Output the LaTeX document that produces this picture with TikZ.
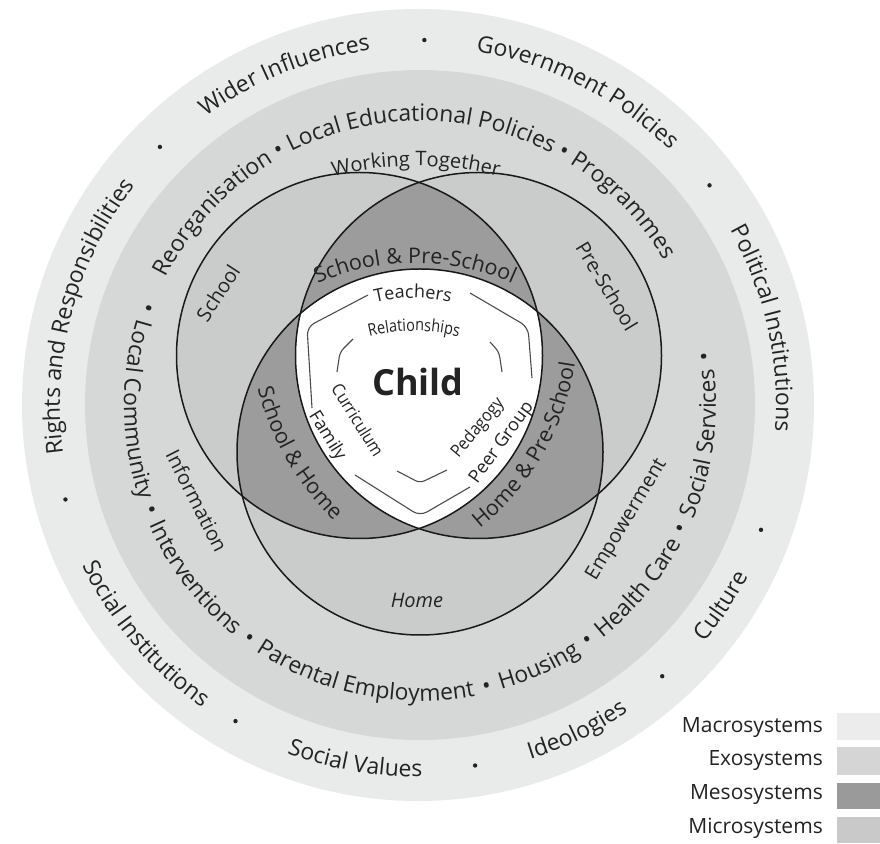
\documentclass[tikz,border=0pt]{standalone}
\usepackage{fontspec}
\setmainfont{Open Sans}
\newfontfamily\condA[FakeStretch=0.85]{Open Sans}
\newfontfamily\condB[FakeStretch=0.9]{Open Sans}
\usetikzlibrary{decorations.text}
\definecolor{macro}{HTML}{E9EBEB}
\definecolor{exo}{HTML}{D6D8D8}
\definecolor{micro}{HTML}{CACCCC}
\definecolor{meso}{HTML}{9C9C9C}
\definecolor{ink}{HTML}{232323}
\definecolor{lgmacro}{HTML}{ECECEC}
\definecolor{lgexo}{HTML}{D5D5D5}
\definecolor{lgmeso}{HTML}{9A9A9A}
\definecolor{lgmicro}{HTML}{C9C9C9}
\newcommand\fOut{\fontsize{23}{27}\selectfont}
\newcommand\fExo{\fontsize{22.8}{26}\selectfont}
\newcommand\fLeg{\fontsize{21}{25}\selectfont}
\newcommand\fVenn{\fontsize{20}{24}\selectfont}
\newcommand\fLens{\fontsize{21.5}{25}\selectfont}
\newcommand\fIn{\fontsize{18}{22}\selectfont}
% clockwise text: centre, radius, mid angle, half span, text
\newcommand\cwtext[5]{\path[decorate,decoration={text along path,text align=center,text={#5}}] (#1) ++({#3+#4}:#2) arc[start angle={#3+#4},end angle={#3-#4},radius=#2];}
\newcommand\ccwtext[5]{\path[decorate,decoration={text along path,text align=center,text={#5}}] (#1) ++({#3-#4}:#2) arc[start angle={#3-#4},end angle={#3+#4},radius=#2];}
\begin{document}
\begin{tikzpicture}[x=1pt,y=1pt,
  vennline/.style={draw=black!90,line width=1.5pt},
  bracketline/.style={draw=black!70,line width=1.1pt,rounded corners=8pt},
  lbl/.style={text=ink,inner sep=0pt},
  dotmark/.style={fill=ink}]
\useasboundingbox (0,0) rectangle (880,843);
\fill[white] (0,0) rectangle (880,843);
\coordinate (O) at (418,438);
\coordinate (E) at (420,438);
\coordinate (S) at (359.5,487.5);
\coordinate (P) at (478.5,487.5);
\coordinate (H) at (420,391);
% rings
\fill[macro] (O) circle[radius=396pt];
\fill[exo] (E) circle[radius=335pt];
% venn fills
\fill[micro] (S) circle[radius=183pt];
\fill[micro] (P) circle[radius=183pt];
\fill[micro] (H) circle[radius=183pt];
\begin{scope}
  \clip (S) circle[radius=183pt];
  \fill[meso] (P) circle[radius=183pt];
  \fill[meso] (H) circle[radius=183pt];
\end{scope}
\begin{scope}
  \clip (P) circle[radius=183pt];
  \fill[meso] (H) circle[radius=183pt];
\end{scope}
\begin{scope}
  \clip (S) circle[radius=183pt];
  \clip (P) circle[radius=183pt];
  \fill[white] (H) circle[radius=183pt];
\end{scope}
\draw[vennline] (S) circle[radius=183pt];
\draw[vennline] (P) circle[radius=183pt];
\draw[vennline] (H) circle[radius=183pt];

% outer ring texts
\cwtext{O}{358pt}{112}{45}{|\color{ink}\fOut|Wider Influences}
\cwtext{O}{358pt}{63}{45}{|\color{ink}\fOut|Government Policies}
\cwtext{O}{358pt}{12.5}{45}{|\color{ink}\fOut|Political Institutions}
\cwtext{O}{358pt}{165}{45}{|\color{ink}\fOut|Rights and Responsibilities}
\ccwtext{O}{372pt}{-140}{35}{|\color{ink}\fOut|Social Institutions}
\ccwtext{O}{372pt}{-100}{30}{|\color{ink}\fOut|Social Values}
\ccwtext{O}{372pt}{-64}{30}{|\color{ink}\fOut|Ideologies}
\ccwtext{O}{372pt}{-33.5}{25}{|\color{ink}\fOut|Culture}
\foreach \a in {89,37,-20,-48,-81,-120,-165,135}
  \fill[dotmark] (O) ++(\a:365pt) circle[radius=2.2pt];

% exo ring texts
\cwtext{E}{284pt}{92}{90}{|\color{ink}\fExo|Reorganisation • Local Educational Policies • Programmes}
\ccwtext{E}{296pt}{-95}{125}{|\color{ink}\fExo|•{\kern3pt} Local Community {\kern3pt}•{\kern3pt} Interventions {\kern3pt}•{\kern3pt} Parental Employment {\kern3pt}•{\kern3pt} Housing {\kern3pt}•{\kern3pt} Health Care {\kern3pt}•{\kern3pt} Social Services {\kern3pt}•}

% venn labels
\cwtext{416,347}{330pt}{90}{20}{|\color{ink}\fVenn|Working Together}
\cwtext{415,342}{238pt}{90}{35}{|\color{ink}\fLens|School {\&} Pre-School}
\ccwtext{522,519}{272pt}{210}{30}{|\color{ink}\fLens|School {\&} Home}
\ccwtext{316,519}{262pt}{-30}{30}{|\color{ink}\fLens|Home {\&} Pre-School}
\node[lbl,font=\fVenn,rotate=57] (lschool) at (218,550) {School};
\node[lbl,font=\fVenn,rotate=-59] (lpre) at (607,557) {Pre-School};
\node[lbl,font=\fVenn,rotate=-63] (linfo) at (197,342) {Information};
\node[lbl,font=\fVenn,rotate=59] (lemp) at (627,323) {Empowerment};
\node[lbl,font=\fVenn\itshape] (lhome) at (417,243) {Home};

% child region
\node[lbl,font=\fontsize{36}{40}\selectfont\bfseries] (child) at (418,461) {Child};
\cwtext{413,385}{160pt}{90}{25}{|\color{ink}\fIn|Teachers}
\cwtext{414,332}{180pt}{90}{25}{|\color{ink}\condA\fontsize{17}{20}\selectfont|Relationships}
\node[lbl,font=\fIn,rotate=-58] (lfamily) at (327,407) {Family};
\node[lbl,font=\condB\fontsize{17.5}{20}\selectfont,rotate=-58] (lcurr) at (358,423) {Curriculum};
\node[lbl,font=\condB\fontsize{17.5}{20}\selectfont,rotate=50] (lped) at (478,415) {Pedagogy};
\node[lbl,font=\fIn,rotate=54] (lpeer) at (502,400) {Peer Group};
% brackets
\draw[bracketline] (368,548) -- (307,516) -- (312,435);
\draw[bracketline] (470,550) -- (528,516) -- (532,465);
\draw[bracketline] (355,368) -- (420,327) -- (470,356);
\draw[bracketline,rounded corners=5pt] (353,504) -- (340,491) -- (337,471);
\draw[bracketline,rounded corners=5pt] (490,501) -- (499,491) -- (502,471);
\draw[bracketline,rounded corners=5pt] (397,372) -- (420,360) -- (447,373);

% legend
\node[lbl,font=\fLeg,anchor=east] (lgA) at (823,115) {Macrosystems};
\node[lbl,font=\fLeg,anchor=east] (lgB) at (823,82) {Exosystems};
\node[lbl,font=\fLeg,anchor=east] (lgC) at (823,48) {Mesosystems};
\node[lbl,font=\fLeg,anchor=east] (lgD) at (823,15) {Microsystems};
\fill[lgmacro] (837,103) rectangle (880,130);
\fill[lgexo] (837,68) rectangle (880,96);
\fill[lgmeso] (837,34) rectangle (880,60);
\fill[lgmicro] (837,0) rectangle (880,26);
\end{tikzpicture}
\end{document}
